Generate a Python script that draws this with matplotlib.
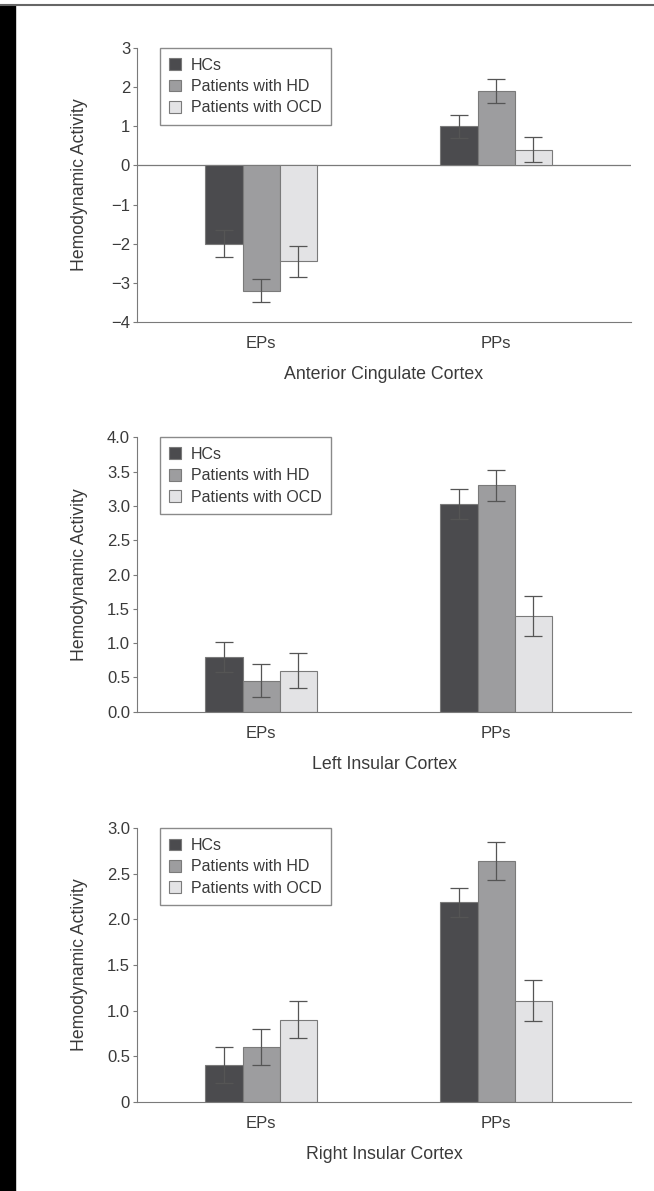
import numpy as np
import matplotlib.pyplot as plt
from matplotlib.patches import Rectangle

groups = ['HCs', 'Patients with HD', 'Patients with OCD']
conditions = ['EPs', 'PPs']
regions = ['Anterior Cingulate Cortex', 'Left Insular Cortex', 'Right Insular Cortex']

# mean values [EPs, PPs] per group, one list per region
acc_hc = [-2.0, 1.0]
acc_hd = [-3.2, 1.9]
acc_ocd = [-2.45, 0.4]
acc_hc_err = [0.35, 0.3]
acc_hd_err = [0.3, 0.3]
acc_ocd_err = [0.4, 0.32]

lic_hc = [0.8, 3.03]
lic_hd = [0.45, 3.3]
lic_ocd = [0.6, 1.4]
lic_hc_err = [0.22, 0.22]
lic_hd_err = [0.24, 0.23]
lic_ocd_err = [0.26, 0.29]

ric_hc = [0.4, 2.19]
ric_hd = [0.6, 2.64]
ric_ocd = [0.9, 1.11]
ric_hc_err = [0.2, 0.16]
ric_hd_err = [0.2, 0.21]
ric_ocd_err = [0.2, 0.22]

acc_ticks = [-4, -3, -2, -1, 0, 1, 2, 3]
acc_ticklabels = ['\u22124', '\u22123', '\u22122', '\u22121', '0', '1', '2', '3']
lic_ticks = [0, 0.5, 1.0, 1.5, 2.0, 2.5, 3.0, 3.5, 4.0]
lic_ticklabels = ['0.0', '0.5', '1.0', '1.5', '2.0', '2.5', '3.0', '3.5', '4.0']
ric_ticks = [0, 0.5, 1.0, 1.5, 2.0, 2.5, 3.0]
ric_ticklabels = ['0', '0.5', '1.0', '1.5', '2.0', '2.5', '3.0']

colors = ['#4b4b4e', '#9d9d9f', '#e3e3e5']
edge = '#7a7a7a'
txt = '#3a3a3a'
plt.rcParams['font.family'] = ['Liberation Sans', 'DejaVu Sans']

panels = [
    (regions[0], [acc_hc, acc_hd, acc_ocd], [acc_hc_err, acc_hd_err, acc_ocd_err],
     acc_ticks, acc_ticklabels, [0.7296, 0.2301]),
    (regions[1], [lic_hc, lic_hd, lic_ocd], [lic_hc_err, lic_hd_err, lic_ocd_err],
     lic_ticks, lic_ticklabels, [0.4024, 0.2304]),
    (regions[2], [ric_hc, ric_hd, ric_ocd], [ric_hc_err, ric_hd_err, ric_ocd_err],
     ric_ticks, ric_ticklabels, [0.0750, 0.2295]),
]

fig = plt.figure(figsize=(6.54, 11.91), dpi=100)

# page decoration: black strip on the left and the top rule
fig.patches.append(Rectangle((0, 0), 15 / 654, 1 - 5 / 1191, transform=fig.transFigure,
                             color='black', zorder=0))
fig.add_artist(plt.Line2D([0, 1], [1 - 5 / 1191, 1 - 5 / 1191], color='#666666', lw=1.5,
                          transform=fig.transFigure))

x = np.arange(len(conditions))
w = 0.158

for title, vals, errs, ticks, ticklabels, (bot, h) in panels:
    ax = fig.add_axes([0.2095, bot, 0.7554, h])
    for i in range(3):
        ax.bar(x + (i - 1) * w, vals[i], w, color=colors[i], edgecolor=edge, linewidth=0.8,
               label=groups[i], zorder=2)
        ax.errorbar(x + (i - 1) * w, vals[i], yerr=errs[i], fmt='none', ecolor='#555555',
                    elinewidth=0.9, capsize=6.5, capthick=0.9, zorder=3)
    ax.set_xlim(-0.528, 1.574)
    ax.set_ylim(ticks[0], ticks[-1])
    ax.set_yticks(ticks)
    ax.set_yticklabels(ticklabels)
    ax.set_xticks(x)
    ax.set_xticklabels(conditions)
    ax.tick_params(axis='x', length=0, pad=10, labelsize=12, colors=txt)
    ax.tick_params(axis='y', length=3, width=0.8, color=edge, pad=2, labelsize=12, labelcolor=txt)
    for s in ['top', 'right']:
        ax.spines[s].set_visible(False)
    ax.spines['left'].set_color(edge)
    ax.spines['bottom'].set_color(edge)
    if ticks[0] < 0:
        ax.axhline(0, color=edge, lw=0.9, zorder=1)
    ax.set_xlabel(title, fontsize=12.8, color=txt, labelpad=11)
    ax.set_ylabel('Hemodynamic Activity', fontsize=12.7, color=txt)
    ax.yaxis.set_label_coords(-0.1, 0.5)
    leg = ax.legend(loc='upper left', bbox_to_anchor=(0.046, 1.0), borderaxespad=0,
                    fancybox=False, edgecolor='#8a8a8a', fontsize=11.5,
                    handlelength=0.75, handleheight=0.75, handletextpad=0.6,
                    labelspacing=0.4, borderpad=0.6, framealpha=1)
    leg.get_frame().set_linewidth(1.0)
    for t in leg.get_texts():
        t.set_color(txt)

fig.savefig('out.png', dpi=100)
